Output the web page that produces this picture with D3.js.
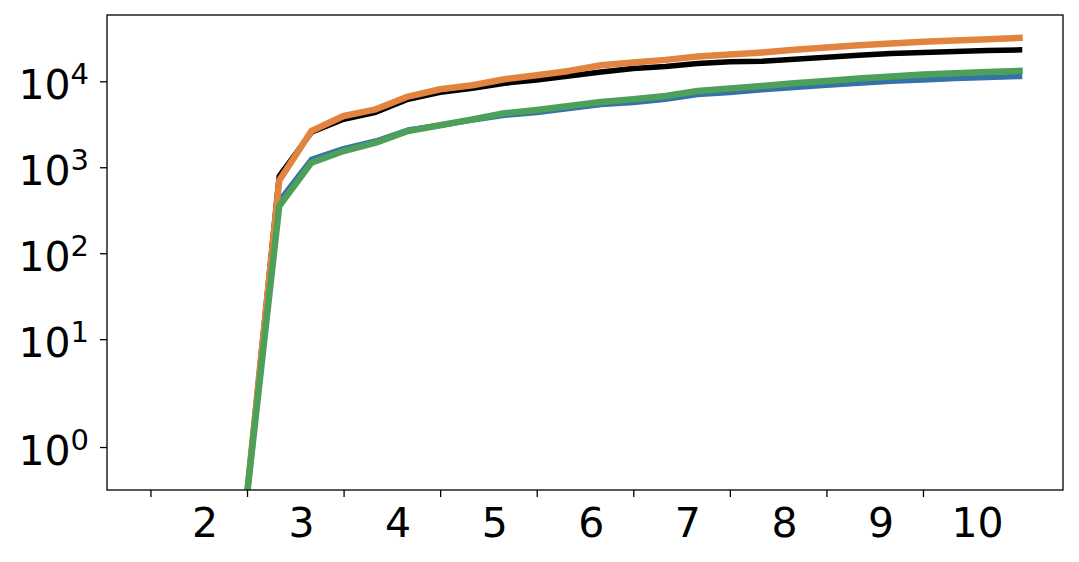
<!DOCTYPE html>
<html>
<head>
<meta charset="utf-8">
<script src="https://cdn.jsdelivr.net/npm/d3@7"></script>
<style>
  html, body { margin: 0; padding: 0; background: #ffffff; }
  svg { display: block; }
  text { font-family: "DejaVu Sans", sans-serif; fill: #000; }
</style>
</head>
<body>
<svg id="chart" width="1079" height="562"></svg>
<script>
// ---- data ----
const xTickLabels = ["2", "3", "4", "5", "6", "7", "8", "9", "10"];
const yTickValues = [1, 10, 100, 1000, 10000];
const yTickExponents = ["0", "1", "2", "3", "4"];

const seriesBlack = [0, 0, 0, 0, 790, 2550, 3610, 4360, 6180, 7460, 8300, 9500, 10370, 11540, 12850, 14090, 14860, 16110, 16820, 17130, 18080, 19090, 20130, 21070, 21650, 22230, 22830, 23210];
const seriesBlue = [0, 0, 0, 0, 403, 1236, 1645, 2018, 2713, 3075, 3545, 4020, 4323, 4810, 5360, 5660, 6180, 7010, 7400, 7980, 8460, 9000, 9500, 10020, 10370, 10770, 11060, 11370];
const seriesOrange = [0, 0, 0, 0, 700, 2640, 3950, 4720, 6640, 8080, 8990, 10570, 11770, 13200, 15380, 16540, 17740, 19420, 20490, 21620, 23210, 24750, 26330, 27560, 28770, 29870, 30920, 32010];
const seriesGreen = [0, 0, 0, 0, 353, 1130, 1543, 1933, 2640, 3075, 3610, 4240, 4640, 5160, 5745, 6180, 6750, 7720, 8240, 8830, 9490, 10090, 10770, 11370, 12000, 12420, 12850, 13200];

const series = [
  { values: seriesBlack, color: "#000000", width: 5.5 },
  { values: seriesBlue, color: "#3572A8", width: 5.5 },
  { values: seriesOrange, color: "#E2843F", width: 6.5 },
  { values: seriesGreen, color: "#4DA05A", width: 6.5 }
];

// ---- layout ----
const W = 1079, H = 562;
const plot = { left: 107, right: 1063, top: 15, bottom: 490 };

const svg = d3.select("#chart");

// x scale (index based, 5% margins)
const n = seriesBlack.length;
const xm = 0.05 * (n - 1);
const x = d3.scaleLinear().domain([-xm, (n - 1) + xm]).range([plot.left, plot.right]);
const xTickPositions = d3.range(0, 25, 3);
const xLabelPositions = xTickPositions.map(v => v + 1.68);

// y scale: symmetric log (linthresh 2, base 10, linscale 1)
const linthresh = 2, base = 10, linscale = 1;
const linAdj = linscale / (1 - 1 / base);
function symT(v) {
  const a = Math.abs(v);
  if (a <= linthresh) return v / linthresh * linAdj;
  return Math.sign(v) * (linAdj + Math.log(a / linthresh) / Math.log(base));
}
const yBottomValue = 0.1;
const allVals = series.flatMap(s => s.values);
const tMax = d3.max(allVals, symT);
const tMin = d3.min(allVals, symT);
const yLin = d3.scaleLinear()
  .domain([symT(yBottomValue), tMax + 0.05 * (tMax - tMin)])
  .range([plot.bottom, plot.top]);
function y(v) { return yLin(symT(v)); }
y.range = () => yLin.range();
y.domain = () => yLin.domain();
y.copy = () => y;

// clip
svg.append("defs").append("clipPath").attr("id", "clip")
  .append("rect")
  .attr("x", plot.left).attr("y", plot.top)
  .attr("width", plot.right - plot.left).attr("height", plot.bottom - plot.top);

// lines
const line = d3.line().x((d, i) => x(i)).y(d => y(d));
const gLines = svg.append("g").attr("clip-path", "url(#clip)");
series.forEach(s => {
  gLines.append("path")
    .datum(s.values)
    .attr("d", line)
    .attr("fill", "none")
    .attr("stroke", s.color)
    .attr("stroke-width", s.width)
    .attr("stroke-linejoin", "round")
    .attr("stroke-linecap", "square");
});

// frame
svg.append("rect")
  .attr("x", plot.left).attr("y", plot.top)
  .attr("width", plot.right - plot.left).attr("height", plot.bottom - plot.top)
  .attr("fill", "none").attr("stroke", "#000").attr("stroke-width", 1.3);

// x axis ticks (unlabelled)
const xAxis = svg.append("g")
  .attr("transform", `translate(0,${plot.bottom})`)
  .call(d3.axisBottom(x).tickValues(xTickPositions).tickFormat("").tickSize(7).tickSizeOuter(0));
xAxis.select(".domain").remove();
xAxis.selectAll(".tick line").attr("stroke", "#000").attr("stroke-width", 1.3);

// x axis labels
const xLab = svg.append("g")
  .attr("transform", `translate(0,${plot.bottom})`)
  .call(d3.axisBottom(x).tickValues(xLabelPositions)
    .tickFormat((d, i) => xTickLabels[i]).tickSize(0).tickSizeOuter(0));
xLab.select(".domain").remove();
xLab.selectAll(".tick line").remove();
xLab.selectAll(".tick text")
  .attr("y", 47).attr("dy", 0)
  .attr("font-size", 41)
  .attr("font-family", "DejaVu Sans, sans-serif")
  .attr("fill", "#000");

// y axis
const yAxis = svg.append("g")
  .attr("transform", `translate(${plot.left},0)`)
  .call(d3.axisLeft(y).tickValues(yTickValues).tickFormat("").tickSize(7).tickSizeOuter(0));
yAxis.select(".domain").remove();
yAxis.selectAll(".tick line").attr("stroke", "#000").attr("stroke-width", 1.3);
yAxis.selectAll(".tick text")
  .attr("x", -18).attr("y", 17).attr("dy", 0)
  .attr("text-anchor", "end")
  .attr("font-size", 41)
  .attr("font-family", "DejaVu Sans, sans-serif")
  .attr("fill", "#000")
  .each(function (d, i) {
    const t = d3.select(this);
    t.text(null);
    t.append("tspan").text("10");
    t.append("tspan").attr("dy", -15).attr("font-size", 29).text(yTickExponents[i]);
  });
</script>
</body>
</html>
